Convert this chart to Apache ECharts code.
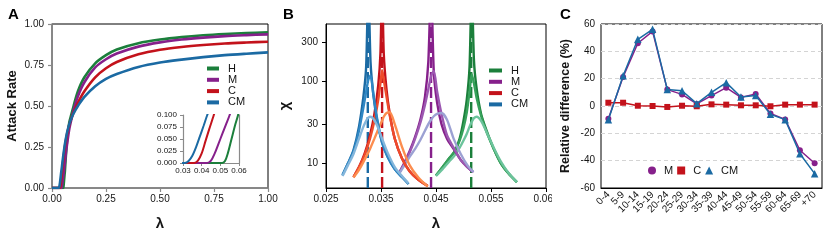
<!DOCTYPE html>
<html><head><meta charset="utf-8">
<script src="https://cdn.jsdelivr.net/npm/echarts@6/dist/echarts.min.js"></script>
<style>html,body{margin:0;padding:0;background:#fff}#c{width:830px;height:249px}</style>
</head><body><div id="c"></div>
<script>
// ---------- Panel A: attack rate vs lambda ----------
const lamA_H  = [0, 0.051, 0.0525, 0.054, 0.056, 0.058, 0.0595, 0.062, 0.065, 0.07, 0.08, 0.09, 0.1, 0.12, 0.15, 0.2, 0.25, 0.3, 0.4, 0.5, 0.6, 0.7, 0.8, 0.9, 1.0];
const arA_H   = [0, 0, 0.004, 0.02, 0.05, 0.08, 0.1, 0.15, 0.21, 0.29, 0.40, 0.45, 0.5, 0.59, 0.675, 0.76, 0.81, 0.845, 0.883, 0.905, 0.92, 0.931, 0.939, 0.945, 0.949];
const lamA_M  = [0, 0.043, 0.045, 0.047, 0.049, 0.051, 0.053, 0.055, 0.06, 0.065, 0.07, 0.08, 0.09, 0.1, 0.12, 0.15, 0.2, 0.25, 0.3, 0.4, 0.5, 0.6, 0.7, 0.8, 0.9, 1.0];
const arA_M   = [0, 0, 0.005, 0.02, 0.04, 0.06, 0.08, 0.1, 0.16, 0.22, 0.27, 0.36, 0.42, 0.475, 0.56, 0.645, 0.735, 0.785, 0.82, 0.862, 0.888, 0.905, 0.917, 0.926, 0.932, 0.937];
const lamA_C  = [0, 0.036, 0.038, 0.040, 0.042, 0.044, 0.0465, 0.05, 0.055, 0.06, 0.07, 0.08, 0.09, 0.1, 0.12, 0.15, 0.2, 0.25, 0.3, 0.4, 0.5, 0.6, 0.7, 0.8, 0.9, 1.0];
const arA_C   = [0, 0, 0.005, 0.02, 0.045, 0.07, 0.1, 0.145, 0.205, 0.255, 0.33, 0.385, 0.425, 0.46, 0.52, 0.59, 0.675, 0.73, 0.768, 0.815, 0.843, 0.86, 0.872, 0.881, 0.887, 0.892];
const lamA_CM = [0, 0.031, 0.033, 0.035, 0.037, 0.039, 0.041, 0.043, 0.046, 0.05, 0.055, 0.06, 0.07, 0.08, 0.09, 0.1, 0.12, 0.15, 0.2, 0.25, 0.3, 0.4, 0.5, 0.6, 0.7, 0.8, 0.9, 1.0];
const arA_CM  = [0, 0, 0.004, 0.015, 0.033, 0.055, 0.077, 0.1, 0.13, 0.175, 0.225, 0.27, 0.34, 0.39, 0.425, 0.455, 0.5, 0.555, 0.62, 0.665, 0.695, 0.738, 0.765, 0.783, 0.798, 0.81, 0.819, 0.827];

// ---------- Panel B: chi vs lambda (three curves per group) ----------
const lamB_H  = [0.0450,0.0462,0.0474,0.0484,0.0493,0.0500,0.0506,0.0511,0.0515,0.0519,0.0524,0.0532,0.0542,0.0555,0.0568,0.0582,0.0597];
const chiH_1  = [7.1,9,11.5,14,20,33,60,150,1500,180,80,40,25,15,10,7.5,5.9];
const chiH_2  = [7.1,9,11.5,14,19,27,42,75,122,95,62,38,24,15,10,7.5,5.9];
const chiH_3  = [7,8.5,10.5,12.5,15.5,19,23,28,32,35.5,37,33,24,15.5,10.5,7.6,5.9];
const lamB_M  = [0.0382,0.0392,0.0402,0.0412,0.0422,0.0430,0.0436,0.0441,0.0446,0.0452,0.0460,0.0470,0.0482,0.0495,0.0507,0.0518];
const chiM_1  = [7.4,10,14,21,35,65,170,1500,130,55,30,20,15,11,9,7.8];
const chiM_2  = [7.4,9.8,13.5,20,32,52,80,115,134,75,40,22,15.5,11,9,7.8];
const chiM_3  = [7.3,9.3,12,15,19.5,25,30,34,37.5,40,41,34,20,13,9.5,7.8];
const lamB_C  = [0.0300,0.0310,0.0320,0.0330,0.0338,0.0345,0.0349,0.0352,0.0355,0.0360,0.0366,0.0375,0.0388,0.0402,0.0418,0.0435];
const chiC_1  = [6.8,9,13,22,40,90,220,1500,220,80,40,20,11.5,8,6.3,5.3];
const chiC_2  = [6.8,9,12.5,20,33,60,95,137,105,65,38,20,11.5,8,6.3,5.3];
const chiC_3  = [6.7,8.3,11,15,20,26,30,33,37,41,42,30,16,9.5,6.7,5.2];
const lamB_CM = [0.0280,0.0290,0.0300,0.0310,0.0318,0.0323,0.0327,0.0331,0.0336,0.0343,0.0352,0.0362,0.0375,0.0388,0.0400];
const chiCM_1 = [7.2,10,14.5,28,65,150,1500,170,70,33,18,12,8.5,6.8,5.6];
const chiCM_2 = [7.2,10,14,25,48,75,105,118,70,35,18,12,8.5,6.8,5.6];
const chiCM_3 = [7,9.5,13,20,28,33,36,37,35,29,20,13.5,9,7,5.7];
const lamCrit = {H: 0.0514, M: 0.0441, C: 0.0352, CM: 0.0326};
const chiTicks = [10, 30, 100, 300];

// ---------- Panel C: relative difference by age ----------
const ageGroups = ['0-4','5-9','10-14','15-19','20-24','25-29','30-34','35-39','40-44','45-49','50-54','55-59','60-64','65-69','+70'];
const relM  = [-9.3, 21.2, 45.9, 54.6, 12, 8.5, 1.5, 7.6, 13.4, 6.3, 8.8, -5.4, -9.8, -32.4, -41.9];
const relC  = [2.4, 2.4, 0.2, 0, -0.7, 0.2, -0.2, 1.2, 1, 0.5, 0.5, -0.2, 1, 1, 1];
const relCM = [-10, 22.2, 48.8, 56.1, 12, 11.2, 1.7, 10, 17.1, 6.6, 7.6, -6.1, -10, -34.9, -49.5];

// ---------- styling ----------
const font = "'Liberation Sans', Arial, Helvetica, sans-serif";
const colH = '#1b7f3b', colM = '#86208b', colC = '#c3121b', colCM = '#1b6aa3';
const midCol = {H: '#36a15a', M: '#9c58b1', C: '#ee4b2b', CM: '#2f87c4'};
const lightCol = {H: '#6cc49c', M: '#9ca1d3', C: '#fc8d4f', CM: '#84b6db'};
const darkCol = {H: colH, M: colM, C: colC, CM: colCM};
const pairs = (xs, ys) => xs.map((x, i) => [x, ys[i]]);
const txt = '#151515';
const grayAx = '#8a8a8a';

const series = [];
// A main
[['H', lamA_H, arA_H], ['M', lamA_M, arA_M], ['C', lamA_C, arA_C], ['CM', lamA_CM, arA_CM]].forEach(([n, xs, ys]) => {
  series.push({name: n, type: 'line', xAxisIndex: 0, yAxisIndex: 0, data: pairs(xs, ys), color: darkCol[n],
    symbol: 'none', smooth: 0.3, lineStyle: {width: 2.6}, silent: true, animation: false});
});
// A inset
[['H', lamA_H, arA_H], ['M', lamA_M, arA_M], ['C', lamA_C, arA_C], ['CM', lamA_CM, arA_CM]].forEach(([n, xs, ys]) => {
  series.push({name: n + '_inset', type: 'line', xAxisIndex: 1, yAxisIndex: 1, data: pairs(xs, ys), color: darkCol[n],
    symbol: 'none', smooth: 0.3, lineStyle: {width: 2}, clip: true, silent: true, animation: false});
});
// B dashed critical lines
['H', 'M', 'C', 'CM'].forEach(n => {
  series.push({name: n + '_crit', type: 'line', xAxisIndex: 2, yAxisIndex: 3, data: [[lamCrit[n], 5], [lamCrit[n], 500]],
    color: darkCol[n], symbol: 'none', lineStyle: {width: 2.4, type: [11, 4]}, silent: true, animation: false, z: 2});
});
// B curves
const groups = [['H', lamB_H, chiH_1, chiH_2, chiH_3], ['M', lamB_M, chiM_1, chiM_2, chiM_3],
                ['C', lamB_C, chiC_1, chiC_2, chiC_3], ['CM', lamB_CM, chiCM_1, chiCM_2, chiCM_3]];
groups.forEach(([n, xs, d1, d2, d3]) => {
  [[d1, darkCol[n], 'dark'], [d2, midCol[n], 'mid'], [d3, lightCol[n], 'light']].forEach(([d, c, k]) => {
    series.push({name: n + '_' + k, type: 'line', xAxisIndex: 2, yAxisIndex: 3, data: pairs(xs, d), color: c,
      symbol: 'none', smooth: 0.25, lineStyle: {width: 2.4}, clip: true, silent: true, animation: false, z: 3});
  });
});
// C
series.push({name: 'M', type: 'line', xAxisIndex: 3, yAxisIndex: 4, data: relM, color: colM,
  symbol: 'circle', symbolSize: 6, lineStyle: {width: 1.5}, animation: false, z: 4});
series.push({name: 'C', type: 'line', xAxisIndex: 3, yAxisIndex: 4, data: relC, color: colC,
  symbol: 'rect', symbolSize: 6, lineStyle: {width: 1.5}, animation: false, z: 4});
series.push({name: 'CM', type: 'line', xAxisIndex: 3, yAxisIndex: 4, data: relCM, color: colCM,
  symbol: 'triangle', symbolSize: 7.5, lineStyle: {width: 1.5}, animation: false, z: 5});

const nameStyle = (size) => ({fontFamily: font, fontWeight: 'bold', fontSize: size, color: txt});
const lbl = (extra) => Object.assign({fontFamily: font, fontSize: 10, color: txt}, extra);

const option = {
  animation: false,
  textStyle: {fontFamily: font},
  grid: [
    {left: 52, top: 24, width: 216, height: 164, show: true, borderColor: '#000', borderWidth: 1, containLabel: false},
    {left: 183, top: 115, width: 56, height: 48, show: false},
    {left: 326, top: 24, width: 220, height: 164, show: true, borderColor: '#000', borderWidth: 1},
    {left: 601, top: 24, width: 221, height: 164, show: true, borderColor: '#000', borderWidth: 1}
  ],
  xAxis: [
    {type: 'value', gridIndex: 0, min: 0, max: 1, interval: 0.25,
      axisLine: {onZero: false, lineStyle: {color: grayAx, width: 1.6}},
      axisTick: {length: 4, lineStyle: {color: grayAx, width: 1.2}},
      axisLabel: lbl({formatter: v => v.toFixed(2), margin: 6}), splitLine: {show: false},
      name: 'λ', nameLocation: 'middle', nameGap: 28, nameTextStyle: nameStyle(15)},
    {type: 'value', gridIndex: 1, min: 0.03, max: 0.06, interval: 0.01,
      axisLine: {onZero: false, lineStyle: {color: grayAx, width: 1.2}},
      axisTick: {length: 3, lineStyle: {color: grayAx}},
      axisLabel: lbl({fontSize: 8, formatter: v => v.toFixed(2), margin: 4}), splitLine: {show: false}},
    {type: 'value', gridIndex: 2, min: 0.025, max: 0.065, interval: 0.01,
      axisLine: {onZero: false, lineStyle: {color: '#000', width: 1}},
      axisTick: {length: 4, lineStyle: {color: '#000'}},
      axisLabel: lbl({formatter: v => v.toFixed(3), margin: 6, showMaxLabel: true, showMinLabel: true}), splitLine: {show: false},
      name: 'λ', nameLocation: 'middle', nameGap: 28, nameTextStyle: nameStyle(15)},
    {type: 'category', gridIndex: 3, data: ageGroups, boundaryGap: true,
      axisLine: {onZero: false, lineStyle: {color: '#000'}},
      axisTick: {alignWithLabel: true, length: 4, lineStyle: {color: '#000'}},
      axisLabel: lbl({interval: 0, rotate: 45, margin: 5}), splitLine: {show: false}}
  ],
  yAxis: [
    {type: 'value', gridIndex: 0, min: 0, max: 1, interval: 0.25,
      axisLine: {onZero: false, lineStyle: {color: grayAx, width: 1.6}},
      axisTick: {length: 4, lineStyle: {color: grayAx, width: 1.2}},
      axisLabel: lbl({formatter: v => v.toFixed(2), margin: 8}), splitLine: {show: false},
      name: 'Attack Rate', nameLocation: 'middle', nameGap: 33, nameTextStyle: nameStyle(13)},
    {type: 'value', gridIndex: 1, min: 0, max: 0.1, interval: 0.025,
      axisLine: {onZero: false, lineStyle: {color: grayAx, width: 1.2}},
      axisTick: {length: 3, lineStyle: {color: grayAx}},
      axisLabel: lbl({fontSize: 8, formatter: v => v.toFixed(3), margin: 6}), splitLine: {show: false}},
    {type: 'value', gridIndex: 1, position: 'right', min: 0, max: 0.1,
      axisLine: {show: true, onZero: false, lineStyle: {color: grayAx, width: 1.2}},
      axisTick: {show: false}, axisLabel: {show: false}, splitLine: {show: false}},
    {type: 'log', gridIndex: 2, logBase: 10, min: 5, max: 500,
      axisLine: {onZero: false, lineStyle: {color: '#000'}},
      axisTick: {length: 4, lineStyle: {color: '#000'}, customValues: chiTicks},
      axisLabel: lbl({margin: 8, customValues: chiTicks}), splitLine: {show: false}, minorTick: {show: false},
      name: 'χ', nameLocation: 'middle', nameGap: 34, nameTextStyle: nameStyle(15)},
    {type: 'value', gridIndex: 3, min: -60, max: 60, interval: 20,
      axisLine: {onZero: false, lineStyle: {color: '#000'}},
      axisTick: {length: 4, lineStyle: {color: '#000'}},
      axisLabel: lbl({margin: 6}),
      splitLine: {show: true, lineStyle: {color: '#d4d4d4', type: [4, 3], width: 1}},
      name: 'Relative difference (%)', nameLocation: 'middle', nameGap: 29, nameTextStyle: nameStyle(12.5)}
  ],
  legend: [
    {data: ['H', 'M', 'C', 'CM'], orient: 'vertical', left: 207, top: 63, padding: 0, itemGap: 0.3,
      itemWidth: 12, itemHeight: 4, icon: 'rect', selectedMode: false, itemStyle: {borderWidth: 0},
      textStyle: {fontFamily: font, fontSize: 11, color: txt, lineHeight: 10, padding: [0, 0, 0, 4]}},
    {data: ['H', 'M', 'C', 'CM'], orient: 'vertical', left: 489, top: 65, padding: 0, itemGap: 0.3,
      itemWidth: 13, itemHeight: 4, icon: 'rect', selectedMode: false, itemStyle: {borderWidth: 0},
      textStyle: {fontFamily: font, fontSize: 11, color: txt, lineHeight: 10, padding: [0, 0, 0, 4]}},
    {data: [{name: 'M', icon: 'circle'}, {name: 'C', icon: 'rect'}, {name: 'CM', icon: 'triangle'}],
      orient: 'horizontal', left: 648, top: 165, padding: 0, itemGap: 4, itemWidth: 8, itemHeight: 8,
      selectedMode: false, itemStyle: {borderWidth: 0},
      textStyle: {fontFamily: font, fontSize: 11, color: txt, padding: [0, 0, 0, 3]}}
  ],
  graphic: [
    {type: 'text', left: 8, top: 7, style: {text: 'A', font: 'bold 15px ' + font, fill: '#000'}},
    {type: 'text', left: 283, top: 7, style: {text: 'B', font: 'bold 15px ' + font, fill: '#000'}},
    {type: 'text', left: 560, top: 7, style: {text: 'C', font: 'bold 15px ' + font, fill: '#000'}},
    {type: 'rect', left: 552, top: 190, z: 100, shape: {width: 9, height: 14}, style: {fill: '#fff'}}
  ],
  series: series
};
const chart = echarts.init(document.getElementById('c'), null, {renderer: 'canvas'});
chart.setOption(option);
</script></body></html>
